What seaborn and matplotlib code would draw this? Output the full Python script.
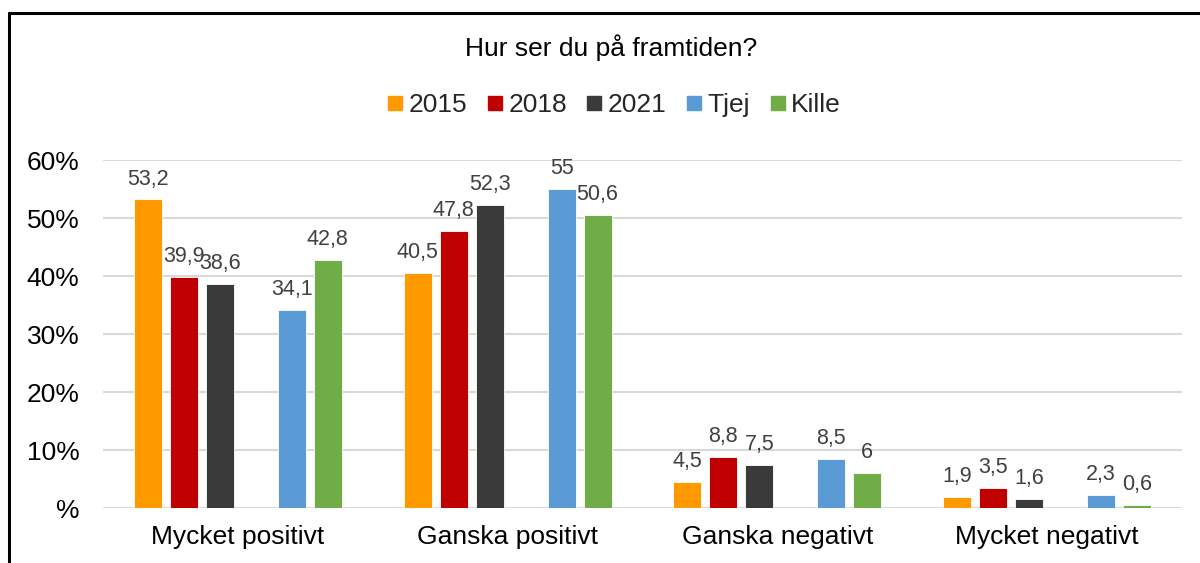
import pandas as pd
import matplotlib.pyplot as plt
import matplotlib.lines as mlines
import seaborn as sns

# === Data ===
categories = ['Mycket positivt', 'Ganska positivt', 'Ganska negativt', 'Mycket negativt']
groups = ['2015', '2018', '2021', 'Tjej', 'Kille']
v2015 = [53.2, 40.5, 4.5, 1.9]
v2018 = [39.9, 47.8, 8.8, 3.5]
v2021 = [38.6, 52.3, 7.5, 1.6]
vtjej = [34.1, 55.0, 8.5, 2.3]
vkille = [42.8, 50.6, 6.0, 0.6]

colors = ['#FF9900', '#C00000', '#3A3A3A', '#5B9BD5', '#70AD47']

rows = []
for g, vals in zip(groups, [v2015, v2018, v2021, vtjej, vkille]):
    for c, v in zip(categories, vals):
        rows.append({'Svar': c, 'Grupp': g, 'Andel': v})
df = pd.DataFrame(rows)

# empty slot between 2021 and Tjej
hue_order = ['2015', '2018', '2021', ' ', 'Tjej', 'Kille']
palette = dict(zip(groups, colors))
palette[' '] = '#FFFFFF'

# === Plot Setup ===
sns.set_theme(style="white")
plt.rcParams['font.family'] = ['Liberation Sans', 'DejaVu Sans']

fig = plt.figure(figsize=(12, 5.63), dpi=100)
ax = fig.add_axes([103 / 1200, 1 - 508 / 563, (1182 - 103) / 1200, (508 - 160) / 563])

sns.barplot(
    data=df, x='Svar', y='Andel', hue='Grupp',
    order=categories, hue_order=hue_order, palette=palette, saturation=1,
    width=0.8, gap=0.22, dodge=True, ax=ax, legend=False,
    edgecolor='white', linewidth=0.6,
)

# === Data labels ===
for cont in ax.containers:
    ax.bar_label(cont, labels=[('%g' % b.get_height()).replace('.', ',') for b in cont],
                 padding=7, fontsize=15.5, color='#404040')

# === Axes ===
ax.set_ylim(0, 60)
ax.set_xlim(-0.5, 3.5)
ax.set_yticks(range(0, 61, 10))
ax.set_yticklabels(['%'] + ['%d%%' % t for t in range(10, 61, 10)])
ax.yaxis.grid(True, color='#D9D9D9', linewidth=1.5)
ax.set_axisbelow(True)
ax.tick_params(axis='y', length=0, pad=17, labelsize=19, labelcolor='black')
ax.tick_params(axis='x', length=0, pad=12, labelsize=19, labelcolor='black')
ax.set_xlabel('')
ax.set_ylabel('')
for s in ax.spines.values():
    s.set_visible(False)

# === Title and legend ===
fig.text(611 / 1200, 1 - 48 / 563, 'Hur ser du på framtiden?', ha='center', va='center',
         fontsize=19, color='black')
handles = [mlines.Line2D([], [], color=c, marker='s', linestyle='', markersize=10.5)
           for c in colors]
fig.legend(handles, groups, loc='center', bbox_to_anchor=(614 / 1200, 1 - 105 / 563),
           ncol=5, frameon=False, fontsize=19, handletextpad=0.2,
           columnspacing=0.75, handlelength=0.6)

# === Border (left and top) ===
fig.add_artist(mlines.Line2D([9 / 1200, 9 / 1200], [0, 1 - 13 / 563], color='black',
                             linewidth=2.2, transform=fig.transFigure))
fig.add_artist(mlines.Line2D([9 / 1200, 1], [1 - 13 / 563, 1 - 13 / 563], color='black',
                             linewidth=2.2, transform=fig.transFigure))

plt.savefig('out.png', dpi=100)
